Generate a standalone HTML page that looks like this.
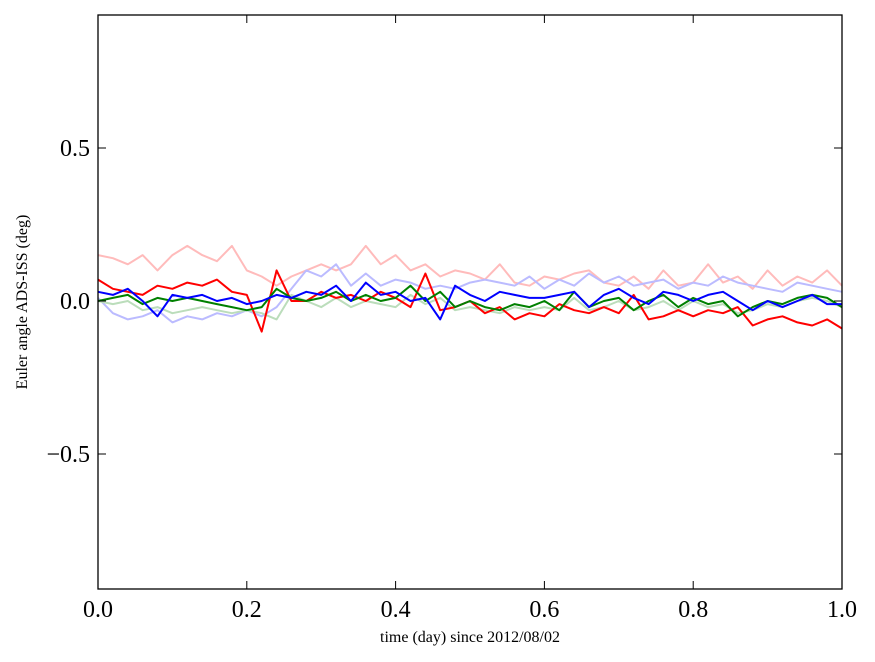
<!DOCTYPE html>
<html><head><meta charset="utf-8"><style>
body{margin:0;background:#fff}
svg{display:block;font-family:"Liberation Serif",serif}
</style></head><body>
<svg id="chart" width="875" height="662">
<rect x="0" y="0" width="875" height="662" fill="#fff"/>
<g id="series"></g>
<g id="axes"></g>
<text x="470" y="642" font-size="16" text-anchor="middle">time (day) since 2012/08/02</text>
<text transform="translate(27,302) rotate(-90)" font-size="16" text-anchor="middle">Euler angle ADS-ISS (deg)</text>
</svg>
<script>
const xTicks=[0,0.2,0.4,0.6,0.8,1.0];
const xTickLabels=["0.0","0.2","0.4","0.6","0.8","1.0"];
const yTicks=[-0.5,0,0.5];
const yTickLabels=["\u22120.5","0.0","0.5"];
const lightRed=[0.15,0.14,0.12,0.15,0.10,0.15,0.18,0.15,0.13,0.18,0.10,0.08,0.05,0.08,0.10,0.12,0.10,0.12,0.18,0.12,0.15,0.10,0.12,0.08,0.10,0.09,0.07,0.12,0.06,0.05,0.08,0.07,0.09,0.10,0.06,0.05,0.08,0.04,0.10,0.05,0.06,0.12,0.06,0.08,0.04,0.10,0.05,0.08,0.06,0.10,0.05];
const lightBlue=[0.01,-0.04,-0.06,-0.05,-0.03,-0.07,-0.05,-0.06,-0.04,-0.05,-0.03,-0.05,-0.02,0.04,0.10,0.08,0.12,0.05,0.09,0.05,0.07,0.06,0.04,0.05,0.04,0.06,0.07,0.06,0.05,0.08,0.04,0.07,0.05,0.09,0.06,0.08,0.05,0.06,0.07,0.04,0.06,0.05,0.08,0.06,0.05,0.04,0.03,0.06,0.05,0.04,0.03];
const lightGreen=[0.0,-0.01,0.0,-0.03,-0.02,-0.04,-0.03,-0.02,-0.03,-0.04,-0.03,-0.04,-0.06,0.02,0.0,-0.02,0.01,-0.02,0.0,-0.01,-0.02,0.02,-0.01,0.01,-0.03,-0.02,-0.03,-0.04,-0.02,-0.03,-0.02,-0.03,0.01,-0.03,-0.02,0.0,-0.03,-0.02,0.0,-0.03,0.0,-0.02,-0.01,-0.04,-0.03,-0.01,-0.02,0.0,0.01,0.0,-0.02];
const red=[0.07,0.04,0.03,0.02,0.05,0.04,0.06,0.05,0.07,0.03,0.02,-0.10,0.10,0.0,0.0,0.03,0.01,0.02,0.0,0.03,0.01,-0.02,0.09,-0.03,-0.02,0.0,-0.04,-0.02,-0.06,-0.04,-0.05,-0.01,-0.03,-0.04,-0.02,-0.04,0.02,-0.06,-0.05,-0.03,-0.05,-0.03,-0.04,-0.02,-0.08,-0.06,-0.05,-0.07,-0.08,-0.06,-0.09];
const green=[0.0,0.01,0.02,-0.01,0.01,0.0,0.01,0.0,-0.01,-0.02,-0.03,-0.02,0.04,0.01,0.0,0.01,0.03,0.0,0.02,0.0,0.01,0.05,0.0,0.03,-0.02,0.0,-0.02,-0.03,-0.01,-0.02,0.0,-0.03,0.03,-0.02,0.0,0.01,-0.03,0.0,0.02,-0.02,0.01,-0.01,0.0,-0.05,-0.02,0.0,-0.01,0.01,0.02,0.01,-0.02];
const blue=[0.03,0.02,0.04,0.0,-0.05,0.02,0.01,0.02,0.0,0.01,-0.01,0.0,0.02,0.01,0.03,0.02,0.05,0.0,0.06,0.02,0.03,0.0,0.01,-0.06,0.05,0.02,0.0,0.03,0.02,0.01,0.01,0.02,0.03,-0.02,0.02,0.04,0.01,-0.01,0.03,0.02,0.0,0.02,0.03,0.0,-0.03,0.0,-0.02,0.0,0.02,-0.01,-0.01];

const L=98,R=842,T=15,B=589,Y0=301,PPU=306;
const sx=v=>L+(R-L)*v;
const sy=v=>Y0-v*PPU;
const NS="http://www.w3.org/2000/svg";
const sg=document.getElementById('series');
const ag=document.getElementById('axes');
function mk(tag,attrs,parent){const e=document.createElementNS(NS,tag);for(const k in attrs)e.setAttribute(k,attrs[k]);parent.appendChild(e);return e;}
const series=[[lightRed,"#ffbbbb","light-red-series"],[lightBlue,"#bbbbff","light-blue-series"],[lightGreen,"#bbddbb","light-green-series"],[red,"#ff0000","red-series"],[green,"#008000","green-series"],[blue,"#0000ff","blue-series"]];
series.forEach(s=>{
  const d=s[0].map((v,i)=>(i?'L':'M')+sx(i/(s[0].length-1)).toFixed(1)+' '+sy(v).toFixed(1)).join(' ');
  const p=mk('path',{d:d,fill:'none',stroke:s[1],'stroke-width':2,'stroke-linejoin':'round'},sg);
  
  
});
const frame=mk('rect',{x:L,y:T,width:R-L,height:B-T,fill:'none',stroke:'#000','stroke-width':1.3},ag);


xTicks.forEach((v,i)=>{
  const x=sx(v);
  mk('line',{x1:x,x2:x,y1:B,y2:B-8,stroke:'#000'},ag);
  mk('line',{x1:x,x2:x,y1:T,y2:T+8,stroke:'#000'},ag);
  const t=mk('text',{x:x,y:B+28,'font-size':24,'text-anchor':'middle'},ag);
  t.textContent=xTickLabels[i];
  
  
});
yTicks.forEach((v,i)=>{
  const y=sy(v);
  mk('line',{x1:L,x2:L+8,y1:y,y2:y,stroke:'#000'},ag);
  mk('line',{x1:R,x2:R-8,y1:y,y2:y,stroke:'#000'},ag);
  const t=mk('text',{x:L-8,y:y+8,'font-size':24,'text-anchor':'end'},ag);
  t.textContent=yTickLabels[i];
  
  
});
</script>
</body></html>
